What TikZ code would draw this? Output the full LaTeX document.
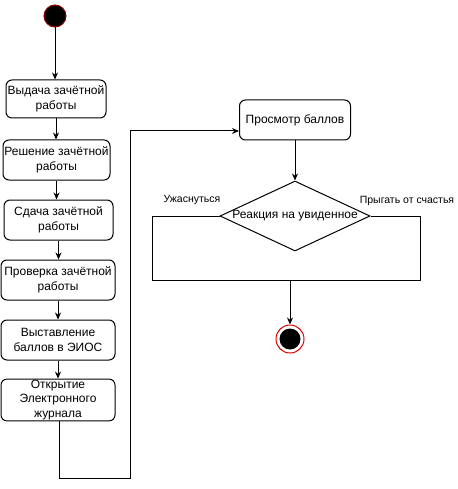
\documentclass[tikz,border=0pt]{standalone}
\usepackage{fontspec}
\setmainfont{Liberation Sans}
\usetikzlibrary{shapes.geometric,arrows.meta}
\begin{document}
\begin{tikzpicture}[x=1pt,y=-1pt,
  font=\fontsize{12}{14.5}\selectfont,
  line width=1pt,
  act/.style={draw, rounded corners=6pt, align=center, inner sep=1pt,
    minimum height=40pt},
  flow/.style={-{Stealth[length=7pt,width=6pt]}},
  small/.style={font=\fontsize{10.5}{12}\selectfont}]
\useasboundingbox (0,0) rectangle (457,489);

% start node
\node[circle, fill=black, draw=red!55!black, line width=1pt,
  minimum size=22pt, inner sep=0] (start) at (55,16) {};

% activity column
\node[act, minimum width=100pt, minimum height=38pt] (b1) at (56,99) {Выдача зачётной\\работы};
\node[act, minimum width=107pt] (b2) at (56.5,160) {Решение зачётной\\работы};
\node[act, minimum width=109pt] (b3) at (58.5,220) {Сдача зачётной\\работы};
\node[act, minimum width=114pt] (b4) at (58,280) {Проверка зачётной\\работы};
\node[act, minimum width=114pt] (b5) at (58,340) {Выставление\\баллов в ЭИОС};
\node[act, minimum width=114pt] (b6) at (58,400) {Открытие\\Электронного\\журнала};

\draw[flow] (start.south) -- (start.south |- b1.north);
\draw[flow] (b1.south) -- (b1.south |- b2.north);
\draw[flow] (b2.south) -- (b2.south |- b3.north);
\draw[flow] (b3.south) -- (b3.south |- b4.north);
\draw[flow] (b4.south) -- (b4.south |- b5.north);
\draw[flow] (b5.south) -- (b5.south |- b6.north);

% viewing the grades
\node[act, minimum width=111pt] (view) at (295,120) {Просмотр баллов};

\coordinate (low) at (59,478);
\coordinate (up) at (130,131);
\draw[flow] (b6.south -| low) -- (low) -| (up) -- (view.west |- up);

% decision
\node[diamond, draw, minimum width=150pt, minimum height=70pt, inner sep=0,
  shape aspect=2.14] (dec) at (295,216) {};
\node (dectext) at (295,216) {Реакция на увиденное};
\draw[flow] (view.south) -- (dec.north);

\node[small] (lscared) at (192,200) {Ужаснуться};
\node[small] (lhappy) at (407,201) {Прыгать от счастья};

\coordinate (bl) at (152,280);
\coordinate (br) at (420,280);
\coordinate (join) at (290,280);
\draw (dec.west) -| (bl) -- (br) |- (dec.east);

% final node
\node[circle, draw=red!85!black, line width=1pt, minimum size=28pt,
  inner sep=0] (end) at (290,339) {};
\node[circle, fill=black, minimum size=21pt, inner sep=0] (endcore) at (end.center) {};
\draw[flow] (join) -- (end.north);
\end{tikzpicture}
\end{document}
